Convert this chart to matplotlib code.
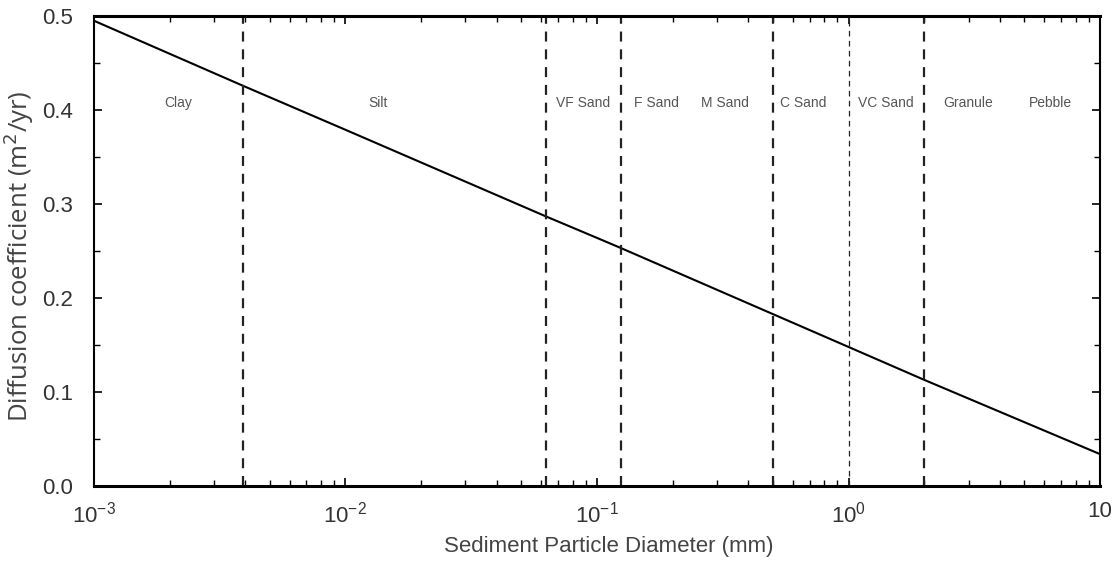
import matplotlib.pyplot as plt
from matplotlib.ticker import LogLocator, MultipleLocator, NullFormatter

# diffusion coefficient vs grain size
diameter = [0.001, 0.0039, 0.01, 0.0625, 0.1, 0.125, 0.5, 1.0, 2.0, 10.0]
diffusion = [0.495, 0.426, 0.379, 0.287, 0.264, 0.253, 0.183, 0.148, 0.113, 0.034]

# class boundaries (mm)
boundaries = [0.0039, 0.0625, 0.125, 0.5, 1.0, 2.0]
boundary_width = [1.6, 1.6, 1.6, 1.6, 0.9, 1.6]

class_names = ['Clay', 'Silt', 'VF Sand', 'F Sand', 'M Sand', 'C Sand',
               'VC Sand', 'Granule', 'Pebble']
class_x = [0.00216, 0.01345, 0.0879, 0.172, 0.323, 0.659, 1.40, 2.99, 6.33]

xticks = [0.001, 0.01, 0.1, 1, 10]
xticklabels = ['$\\mathregular{10^{-3}}$', '$\\mathregular{10^{-2}}$',
               '$\\mathregular{10^{-1}}$', '$\\mathregular{10^{0}}$', '10']

plt.rcParams['font.family'] = ['Liberation Sans', 'DejaVu Sans']

fig = plt.figure(figsize=(11.18, 5.62), dpi=100)
ax = fig.add_axes([0.084, 0.135, 0.9, 0.8365])

ax.plot(diameter, diffusion, color='black', lw=1.5)
for b, w in zip(boundaries, boundary_width):
    ax.axvline(b, color='#222222', lw=w, ls=(0, (4.5, 3.5)))
for name, x in zip(class_names, class_x):
    ax.text(x, 0.407, name, ha='center', va='center', fontsize=10, color='#555555')

ax.set_xscale('log')
ax.set_xlim(0.001, 10)
ax.set_ylim(0, 0.5)
ax.set_xticks(xticks)
ax.set_xticklabels(xticklabels)
ax.xaxis.set_minor_locator(LogLocator(base=10, subs=range(2, 10)))
ax.xaxis.set_minor_formatter(NullFormatter())
ax.yaxis.set_major_locator(MultipleLocator(0.1))
ax.yaxis.set_minor_locator(MultipleLocator(0.05))
ax.yaxis.set_major_formatter(plt.FormatStrFormatter('%.1f'))

ax.tick_params(which='both', direction='in', top=True, right=True,
               labelsize=16, labelcolor='#333333')
ax.tick_params(which='major', length=6, width=1.2)
ax.tick_params(which='minor', length=4, width=1.0)
ax.tick_params(axis='x', pad=11)
ax.tick_params(axis='y', pad=15)

for side in ['left', 'right']:
    ax.spines[side].set_linewidth(1.5)
for side in ['top', 'bottom']:
    ax.spines[side].set_linewidth(2.2)

ax.set_xlabel('Sediment Particle Diameter (mm)', fontsize=16, color='#444444')
ax.xaxis.set_label_coords(0.512, -0.106)
ax.set_ylabel('Diffusion coefficient (m$^2$/yr)', fontsize=18.5, color='#444444',
              family=['Open Sans', 'DejaVu Sans'])
ax.yaxis.set_label_coords(-0.058, 0.49)

plt.savefig('out.png')
